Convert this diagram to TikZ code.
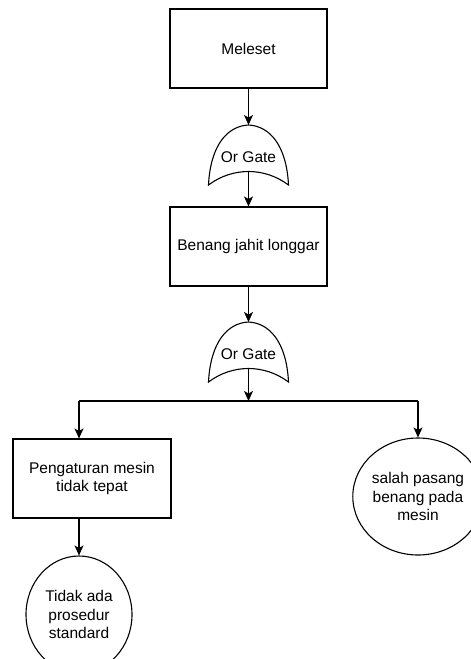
\documentclass[tikz,border=0pt]{standalone}
\usepackage{fontspec}
\setmainfont{Liberation Sans}
\usetikzlibrary{arrows.meta,shapes.geometric}
\begin{document}
\begin{tikzpicture}[x=1pt,y=-1pt,
  every node/.style={font=\fontsize{15.5}{18.5}\selectfont, inner sep=0pt, align=center},
  box/.style={draw, line width=1.1pt, minimum width=157pt, minimum height=79pt},
  event/.style={draw, ellipse, line width=1.1pt, minimum width=106pt, minimum height=117pt},
  arr/.style={line width=1.1pt, -{Stealth[length=10pt,width=9pt,inset=2.5pt]}},
  link/.style={line width=1.1pt},
  orgate/.pic={
    \draw[line width=1.1pt] (-40,60) .. controls (-38,20) and (-21,1) .. (0,0)
      .. controls (21,1) and (38,20) .. (40,60)
      .. controls (16,42) and (-16,42) .. (-40,60) -- cycle;
    \coordinate (-top) at (0,0);
    \coordinate (-bot) at (0,46.5);
    \node (-label) at (0,32) {Or Gate};
  }]
\useasboundingbox (0,0) rectangle (471,659);

% events and gates
\node[box] (meleset) at (248.5,48.5) {Meleset};
\pic (g1) at (248.5,125) {orgate};
\node[box] (thread) at (248.5,246.5) {Benang jahit longgar};
\pic (g2) at (248.5,322) {orgate};
\node[box, minimum width=158pt] (setting) at (92,478.5) {Pengaturan mesin\\tidak tepat};
\node[event] (proc) at (79,614.5) {Tidak ada\\prosedur\\standard};
\node[event] (wrong) at (418,496.5) {salah pasang\\benang pada\\mesin};

% branching points below the second gate
\coordinate (split) at (248.5,401);
\coordinate (splitL) at (79,401);
\coordinate (splitR) at (418,401);

% connectors
\draw[arr] (meleset.south) -- (g1-top);
\draw[arr] (g1-bot) -- (thread.north);
\draw[arr] (thread.south) -- (g2-top);
\draw[arr] (g2-bot) -- (split);
\draw[link] (splitL) -- (splitR);
\draw[arr] (splitL) -- (splitL |- setting.north);
\draw[arr] (splitR) -- (wrong.north);
\draw[arr] (splitL |- setting.south) -- (proc.north);
\end{tikzpicture}
\end{document}
